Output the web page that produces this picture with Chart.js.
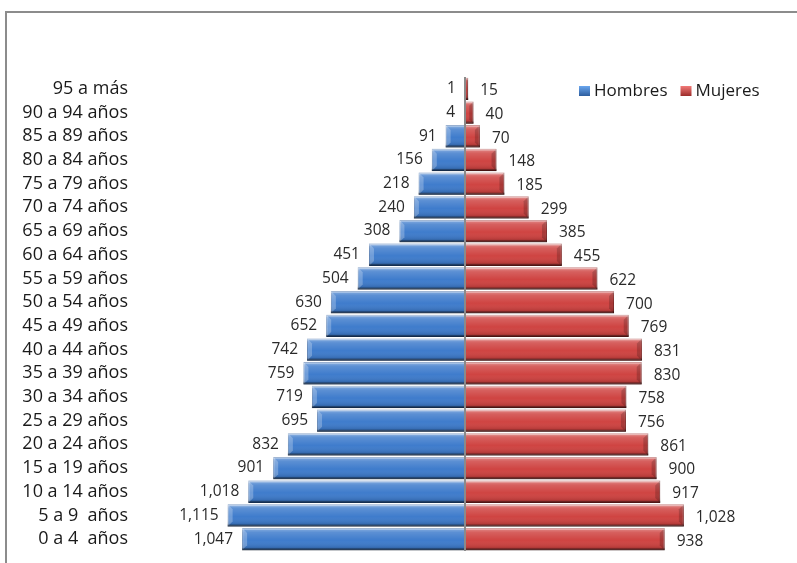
<!DOCTYPE html>
<html>
<head>
<meta charset="utf-8">
<script src="https://cdn.jsdelivr.net/npm/chart.js@4/dist/chart.umd.min.js"></script>
<style>
  html, body { margin: 0; padding: 0; background: #fff; }
  #wrap { width: 797px; height: 563px; position: relative; }
</style>
</head>
<body>
<div id="wrap"><canvas id="piramide" width="797" height="563"></canvas></div>
<script>
const grupos = ['95 a más', '90 a 94 años', '85 a 89 años', '80 a 84 años', '75 a 79 años',
  '70 a 74 años', '65 a 69 años', '60 a 64 años', '55 a 59 años', '50 a 54 años',
  '45 a 49 años', '40 a 44 años', '35 a 39 años', '30 a 34 años', '25 a 29 años',
  '20 a 24 años', '15 a 19 años', '10 a 14 años', '5 a 9  años', '0 a 4  años'];
const hombres = [1, 4, 91, 156, 218, 240, 308, 451, 504, 630, 652, 742, 759, 719, 695, 832, 901, 1018, 1115, 1047];
const mujeres = [15, 40, 70, 148, 185, 299, 385, 455, 622, 700, 769, 831, 830, 758, 756, 861, 900, 917, 1028, 938];

const fuente = '"Open Sans", "Noto Sans", sans-serif';
const fmt = v => Math.abs(v).toLocaleString('en-US');

// marco gris del gráfico
const marco = {
  id: 'marco',
  beforeDraw(chart) {
    const c = chart.ctx;
    c.save();
    c.strokeStyle = '#8c8c8c';
    c.lineWidth = 2;
    c.beginPath();
    c.moveTo(6, 600);
    c.lineTo(6, 12);
    c.lineTo(800, 12);
    c.stroke();
    c.restore();
  }
};

// relieve de las barras: brillo arriba, sombra abajo y en el extremo
const relieve = {
  id: 'relieve',
  afterDatasetsDraw(chart) {
    const c = chart.ctx;
    chart.data.datasets.forEach((ds, i) => {
      chart.getDatasetMeta(i).data.forEach(bar => {
        const left = Math.min(bar.x, bar.base), right = Math.max(bar.x, bar.base);
        const top = bar.y - bar.height / 2, h = bar.height, w = right - left;
        if (w < 1) return;
        c.save();
        const g = c.createLinearGradient(0, top, 0, top + h);
        g.addColorStop(0, 'rgba(255,255,255,0.40)');
        g.addColorStop(0.2, 'rgba(255,255,255,0.15)');
        g.addColorStop(0.55, 'rgba(255,255,255,0)');
        g.addColorStop(0.85, 'rgba(0,0,0,0.10)');
        g.addColorStop(1, 'rgba(0,0,0,0.38)');
        c.fillStyle = g;
        c.fillRect(left, top, w, h);
        // bisel del extremo exterior
        const b = Math.min(5, w / 2);
        const xe = i === 0 ? left : right;
        const dir = i === 0 ? 1 : -1;
        c.fillStyle = i === 0 ? 'rgba(255,255,255,0.25)' : 'rgba(0,0,0,0.18)';
        c.beginPath();
        c.moveTo(xe, top); c.lineTo(xe + dir * b, top + b); c.lineTo(xe + dir * b, top + h - b); c.lineTo(xe, top + h);
        c.closePath(); c.fill();
        c.fillStyle = 'rgba(255,255,255,0.30)';
        c.fillRect(left, top, w, 2);
        c.fillStyle = 'rgba(0,0,0,0.30)';
        c.fillRect(left, top + h - 2, w, 2);
        c.restore();
      });
    });
    // eje central
    const x0 = chart.scales.x.getPixelForValue(0);
    c.save();
    c.strokeStyle = '#8a8a8a';
    c.lineWidth = 2;
    c.beginPath();
    c.moveTo(x0, chart.chartArea.top);
    c.lineTo(x0, chart.chartArea.bottom);
    c.stroke();
    c.restore();
  }
};

// etiquetas de valores al extremo de cada barra
const etiquetas = {
  id: 'etiquetas',
  afterDatasetsDraw(chart) {
    const c = chart.ctx;
    c.save();
    c.font = '15.5px ' + fuente;
    c.fillStyle = '#2a2a2a';
    c.textBaseline = 'middle';
    chart.data.datasets.forEach((ds, i) => {
      chart.getDatasetMeta(i).data.forEach((bar, j) => {
        const txt = fmt(ds.data[j]);
        if (i === 0) {
          c.textAlign = 'right';
          c.fillText(txt, bar.x - 9, bar.y);
        } else {
          c.textAlign = 'left';
          c.fillText(txt, bar.x + 12, bar.y + 2);
        }
      });
    });
    c.restore();
  }
};

// leyenda dentro del área de trazado, arriba a la derecha
const leyenda = {
  id: 'leyenda',
  afterDraw(chart) {
    const c = chart.ctx;
    c.save();
    c.font = '17px ' + fuente;
    c.textBaseline = 'middle';
    c.textAlign = 'left';
    let x = 579;
    const y = 91;
    chart.data.datasets.forEach(ds => {
      const g = c.createLinearGradient(0, y - 5, 0, y + 5);
      g.addColorStop(0, ds.claro);
      g.addColorStop(1, ds.oscuro);
      c.fillStyle = g;
      c.fillRect(x, y - 5, 11, 10);
      c.fillStyle = '#1a1a1a';
      c.fillText(ds.label, x + 15, y);
      x += 15 + c.measureText(ds.label).width + 13;
    });
    c.restore();
  }
};

new Chart(document.getElementById('piramide'), {
  type: 'bar',
  data: {
    labels: grupos,
    datasets: [
      {
        label: 'Hombres',
        data: hombres.map(v => -v),
        backgroundColor: '#3f7ccc',
        borderColor: '#2d5d9e',
        borderWidth: 1,
        claro: '#6aa6ee',
        oscuro: '#2d5d9e',
        barPercentage: 0.94,
        categoryPercentage: 1
      },
      {
        label: 'Mujeres',
        data: mujeres,
        backgroundColor: '#cf4442',
        borderColor: '#9c2c2a',
        borderWidth: 1,
        claro: '#f27a78',
        oscuro: '#9c2c2a',
        barPercentage: 0.94,
        categoryPercentage: 1
      }
    ]
  },
  options: {
    indexAxis: 'y',
    responsive: false,
    animation: false,
    layout: { padding: { top: 77, bottom: 12, right: 2, left: 0 } },
    scales: {
      x: {
        stacked: true,
        min: -1550,
        max: 1550,
        display: false
      },
      y: {
        stacked: true,
        grid: { display: false, drawTicks: false },
        border: { display: false },
        ticks: {
          autoSkip: false,
          padding: 7,
          color: '#1a1a1a',
          font: { family: fuente, size: 18 }
        },
        afterFit(scale) {
          scale.width = 135;
          scale.paddingTop = 0;
          scale.paddingBottom = 0;
        }
      }
    },
    plugins: {
      legend: { display: false },
      tooltip: { enabled: false }
    }
  },
  plugins: [marco, relieve, etiquetas, leyenda]
});
</script>
</body>
</html>
